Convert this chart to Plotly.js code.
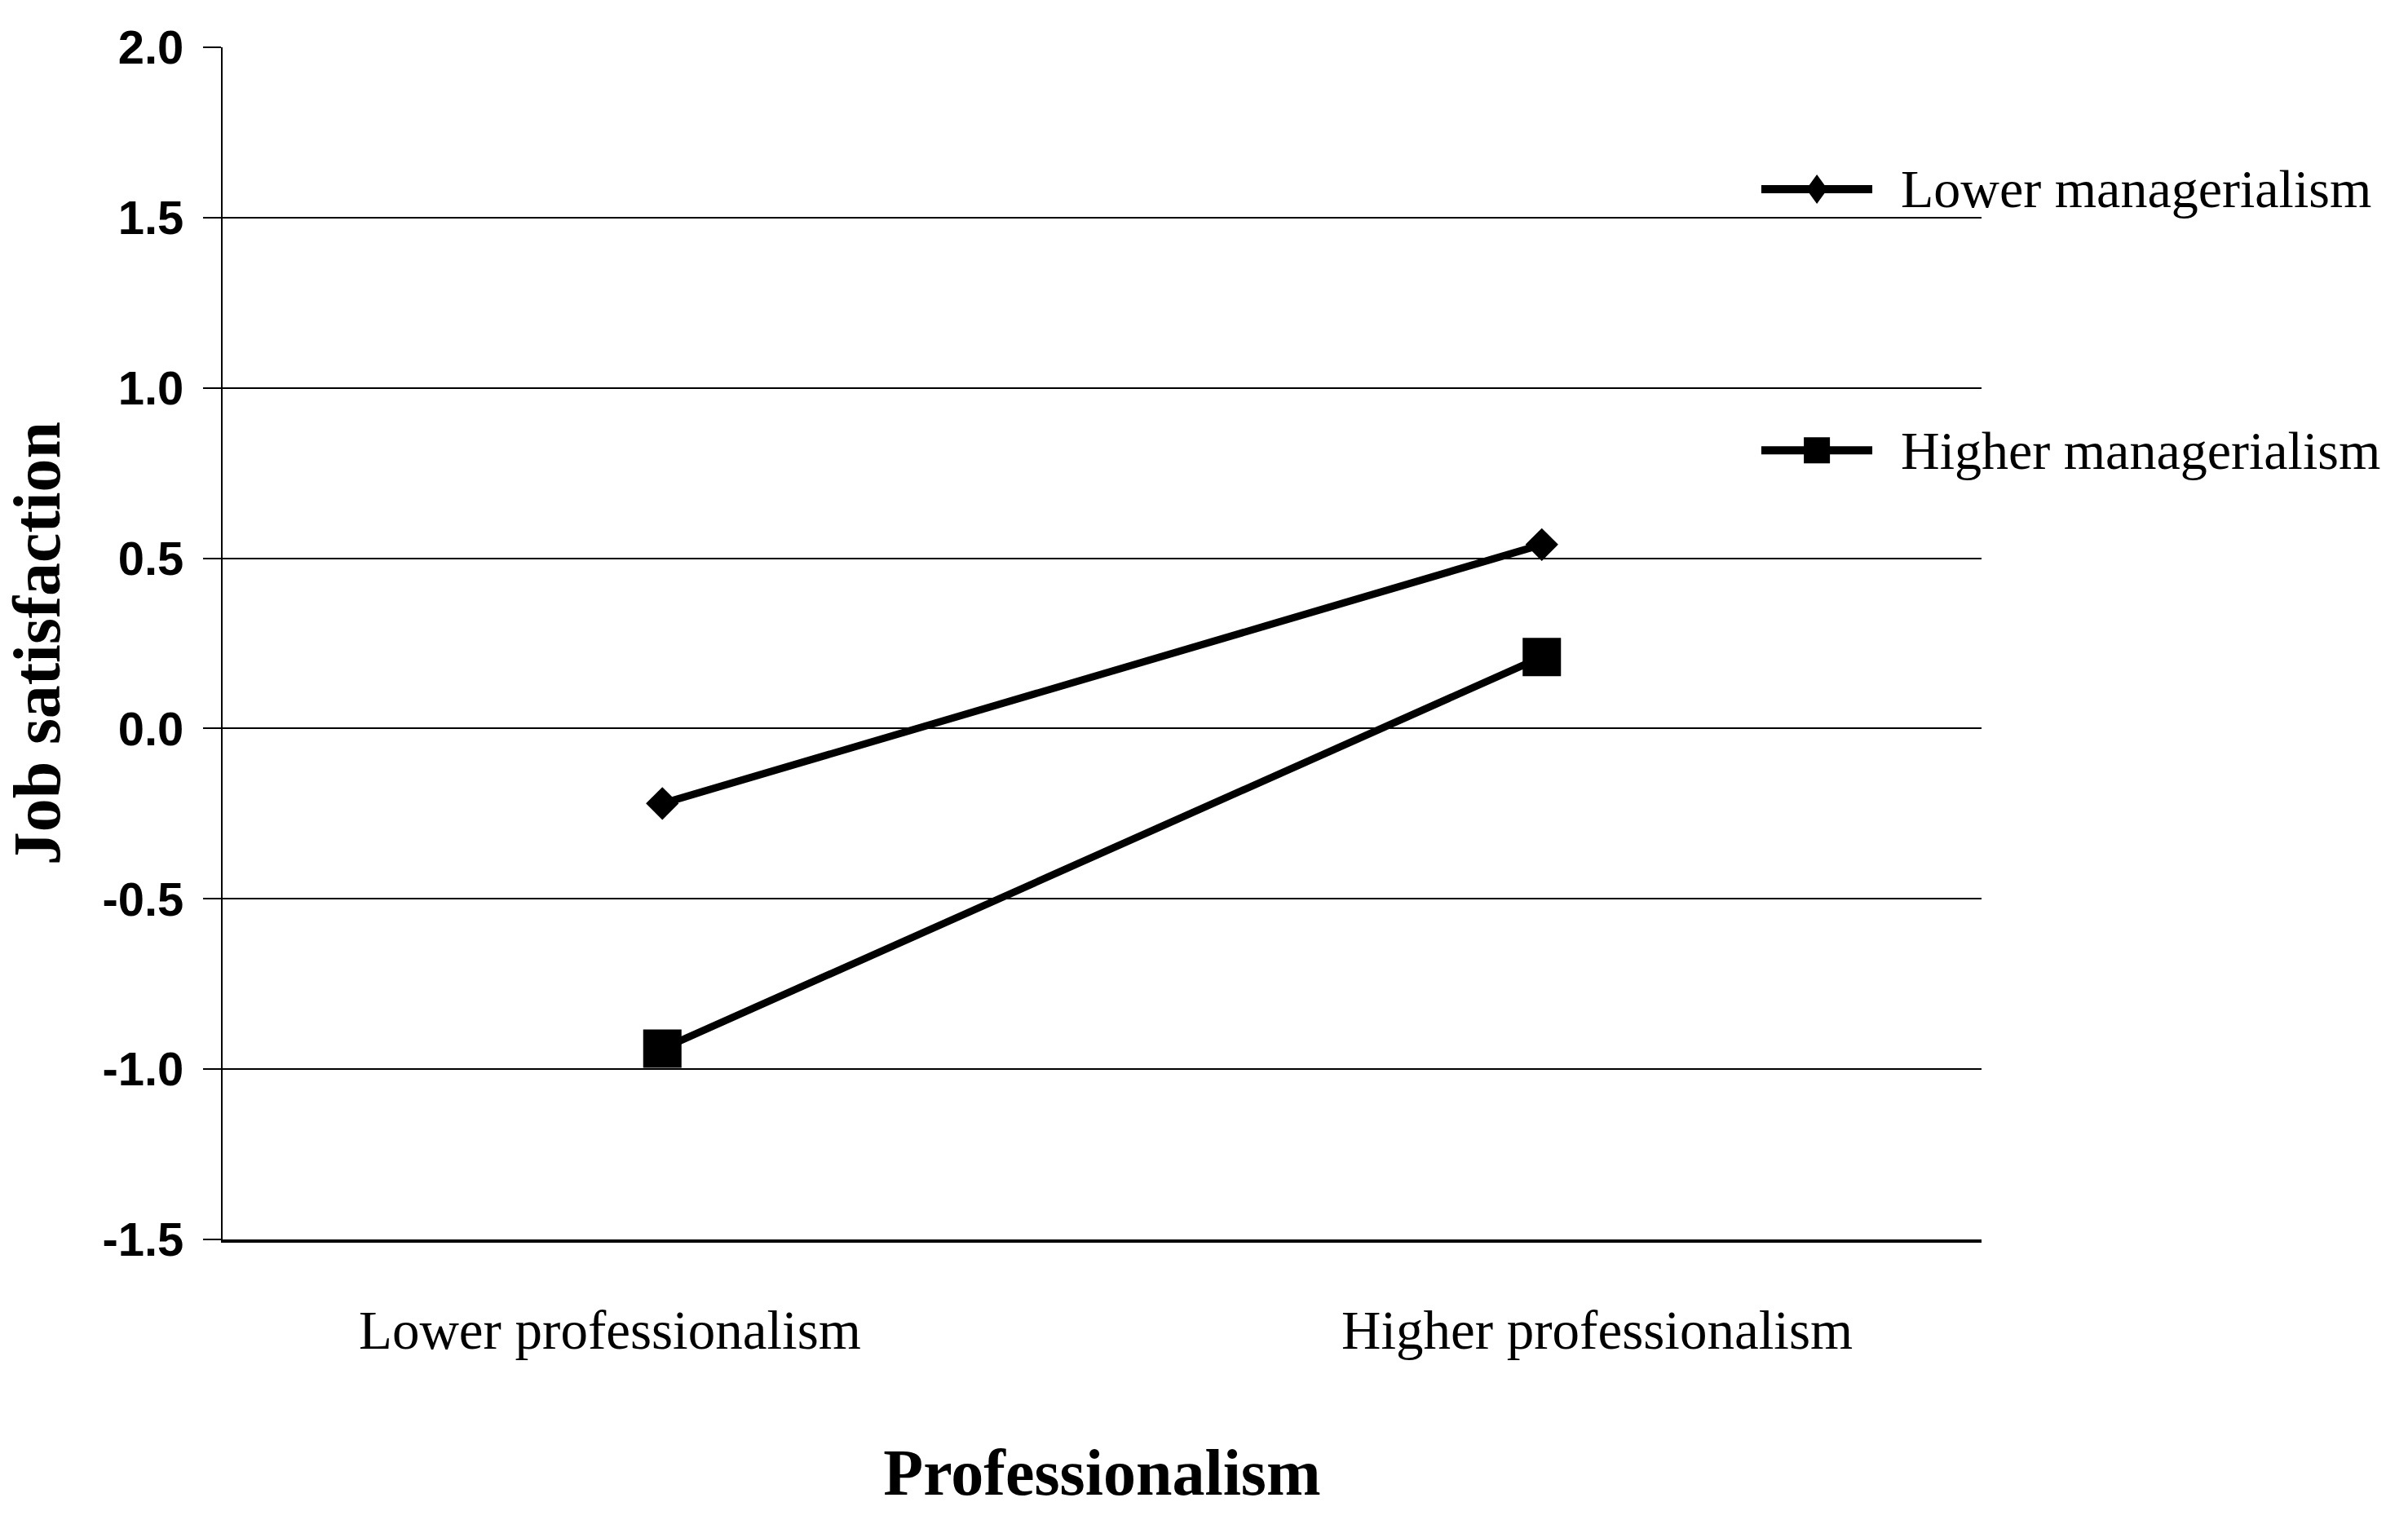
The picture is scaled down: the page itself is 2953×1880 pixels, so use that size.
<!DOCTYPE html>
<html lang="en">
<head>
    <meta charset="UTF-8">
    <title>Job satisfaction by professionalism</title>
    <script src="https://cdn.plot.ly/plotly-3.0.1.min.js"></script>
    <style>
        body { margin: 0; background: #fff; }
        #chart { width: 2953px; height: 1880px; }
    </style>
</head>
<body>
    <div id="chart"></div>
    <script>
        // data
        const categories = ['Lower professionalism', 'Higher professionalism'];
        const seriesNames = ['Lower managerialism', 'Higher managerialism'];
        const lowerManagerialism = [-0.22, 0.54];
        const higherManagerialism = [-0.94, 0.21];
        const yTicks = [-1.5, -1.0, -0.5, 0.0, 0.5, 1.0, 1.5, 2.0];

        const xIdx = categories.map((c, i) => i);
        const serif = 'Liberation Serif, Times New Roman, serif';
        const sans = 'Liberation Sans, Arial, sans-serif';

        const traces = [
            {
                x: xIdx, y: lowerManagerialism, name: seriesNames[0],
                type: 'scatter', mode: 'lines+markers',
                line: { color: '#000', width: 9 },
                marker: { symbol: 'diamond', size: 31, color: '#000' },
                showlegend: false
            },
            {
                x: xIdx, y: higherManagerialism, name: seriesNames[1],
                type: 'scatter', mode: 'lines+markers',
                line: { color: '#000', width: 9 },
                marker: { symbol: 'square', size: 47, color: '#000' },
                showlegend: false
            }
        ];

        // category labels sit a bit off the points, like the original
        const labelShift = [-64, 68];
        const annotations = categories.map((c, i) => ({
            text: c, x: i, xref: 'x', y: 0, yref: 'paper',
            yanchor: 'middle', yshift: -111, xshift: labelShift[i],
            showarrow: false,
            font: { family: serif, size: 67, color: '#000' }
        }));

        // hand-made legend to the right, long line samples
        const legendRows = [0.881, 0.662];
        const legendPaths = [
            'M0,18 L13,0 L0,-18 L-13,0 Z',
            'M-16,-16 L16,-16 L16,16 L-16,16 Z'
        ];
        const shapes = [];
        seriesNames.forEach((name, i) => {
            shapes.push({
                type: 'line', xref: 'paper', yref: 'paper',
                x0: 0.8748, x1: 0.9379, y0: legendRows[i], y1: legendRows[i],
                line: { color: '#000', width: 10 }
            });
            shapes.push({
                type: 'path', xref: 'paper', yref: 'paper',
                xsizemode: 'pixel', ysizemode: 'pixel',
                xanchor: 0.9064, yanchor: legendRows[i],
                path: legendPaths[i],
                fillcolor: '#000', line: { width: 0 }
            });
            annotations.push({
                text: name, xref: 'paper', yref: 'paper',
                x: 0.9532, y: legendRows[i], xanchor: 'left', yanchor: 'middle',
                showarrow: false,
                font: { family: serif, size: 66, color: '#000' }
            });
        });

        const layout = {
            width: 2953, height: 1880,
            margin: { l: 273, r: 523, t: 58, b: 360 },
            paper_bgcolor: '#fff', plot_bgcolor: '#fff',
            showlegend: false,
            xaxis: {
                range: [-0.5, 1.5],
                showgrid: false, zeroline: false,
                showticklabels: false, ticks: '',
                showline: true, linecolor: '#000', linewidth: 4,
                title: {
                    text: 'Professionalism', standoff: 255,
                    font: { family: serif, size: 80, weight: 'bold', color: '#000' }
                }
            },
            yaxis: {
                range: [-1.5, 2.0],
                tickvals: yTicks,
                ticktext: yTicks.map(v => v.toFixed(1)),
                ticks: 'outside', ticklen: 22, tickwidth: 2, tickcolor: '#000',
                ticklabelstandoff: 12,
                tickfont: { family: sans, size: 58, weight: 'bold', color: '#000' },
                showgrid: true, gridcolor: '#000', gridwidth: 2,
                zeroline: false,
                showline: true, linecolor: '#000', linewidth: 2,
                title: {
                    text: 'Job satisfaction', standoff: 28,
                    font: { family: serif, size: 82, weight: 'bold', color: '#000' }
                }
            },
            shapes: shapes,
            annotations: annotations
        };

        Plotly.newPlot('chart', traces, layout, { staticPlot: true });
    </script>
</body>
</html>
